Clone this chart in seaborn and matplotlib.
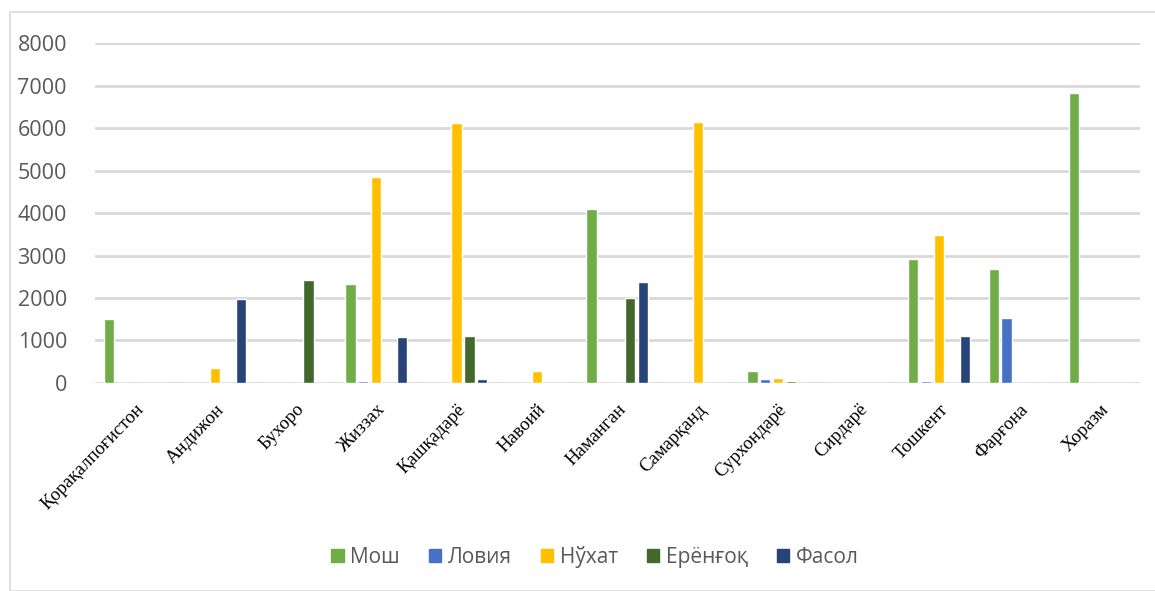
import matplotlib
matplotlib.use("Agg")
import matplotlib.pyplot as plt
import matplotlib.patches as mpatches
import seaborn as sns
import pandas as pd

regions = ["Қорақалпоғистон", "Андижон", "Бухоро", "Жиззах", "Қашқадарё", "Навоий",
           "Наманган", "Самарқанд", "Сурхондарё", "Сирдарё", "Тошкент", "Фарғона", "Хоразм"]
series = ["Мош", "Ловия", "Нўхат", "Ерёнғоқ", "Фасол"]
mosh    = [1500, 0, 0, 2330, 0, 0, 4100, 0, 270, 0, 2930, 2680, 6820]
loviya  = [0, 0, 0, 40, 0, 0, 0, 0, 100, 0, 50, 1540, 0]
nuxat   = [0, 350, 0, 4840, 6130, 270, 0, 6150, 120, 0, 3480, 0, 0]
eryongoq= [0, 0, 2420, 0, 1110, 0, 2000, 0, 50, 0, 0, 0, 0]
fasol   = [0, 1970, 0, 1090, 100, 0, 2370, 0, 0, 0, 1110, 0, 0]
colors = ["#70AD47", "#4472C4", "#FFC000", "#43682B", "#264478"]
yticks = [0, 1000, 2000, 3000, 4000, 5000, 6000, 7000, 8000]

rows = []
for name, vals in zip(series, [mosh, loviya, nuxat, eryongoq, fasol]):
    for r, v in zip(regions, vals):
        rows.append({"region": r, "series": name, "value": v})
df = pd.DataFrame(rows)

sns.set_theme(style="white")
plt.rcParams["font.family"] = ["Open Sans", "DejaVu Sans"]

fig = plt.figure(figsize=(11.55, 5.91), dpi=100)
ax = fig.add_axes([0.082, 0.352, 0.905, 0.575])

sns.barplot(data=df, x="region", y="value", hue="series", order=regions,
            hue_order=series, palette=colors, width=0.8, gap=0.2,
            saturation=1, ax=ax, legend=True, errorbar=None)

ax.set_ylim(0, 8000)
ax.set_yticks(yticks)
ax.set_yticklabels([str(t) for t in yticks], fontsize=15.5, color="#595959")
ax.yaxis.grid(True, color="#D9D9D9", linewidth=2)
ax.set_axisbelow(True)
for s in ax.spines.values():
    s.set_visible(False)
ax.tick_params(axis="both", length=0)
ax.tick_params(axis="y", pad=20)
ax.set_xlabel("")
ax.set_ylabel("")
ax.set_xlim(-0.5, len(regions) - 0.5)
ax.set_xticks(range(len(regions)))
ax.set_xticklabels(regions, rotation=46, ha="right", rotation_mode="anchor",
                   fontsize=13.5, family=["Liberation Serif", "DejaVu Serif"], color="black")
ax.tick_params(axis="x", pad=13)

handles = [mpatches.Patch(color=c, label=s) for c, s in zip(colors, series)]
ax.legend(handles=handles, loc="center", bbox_to_anchor=(0.515, 0.058),
          bbox_transform=fig.transFigure, ncol=5, frameon=False, fontsize=15,
          handlelength=0.6, handleheight=0.6, handletextpad=0.3, columnspacing=1.4,
          labelcolor="#595959")

frame = mpatches.Rectangle((10 / 1155, 0), 1.2, 1 - 12 / 591, transform=fig.transFigure,
                           fill=False, edgecolor="#D9D9D9", linewidth=1.2)
fig.patches.append(frame)

fig.savefig("out.png", dpi=100)
